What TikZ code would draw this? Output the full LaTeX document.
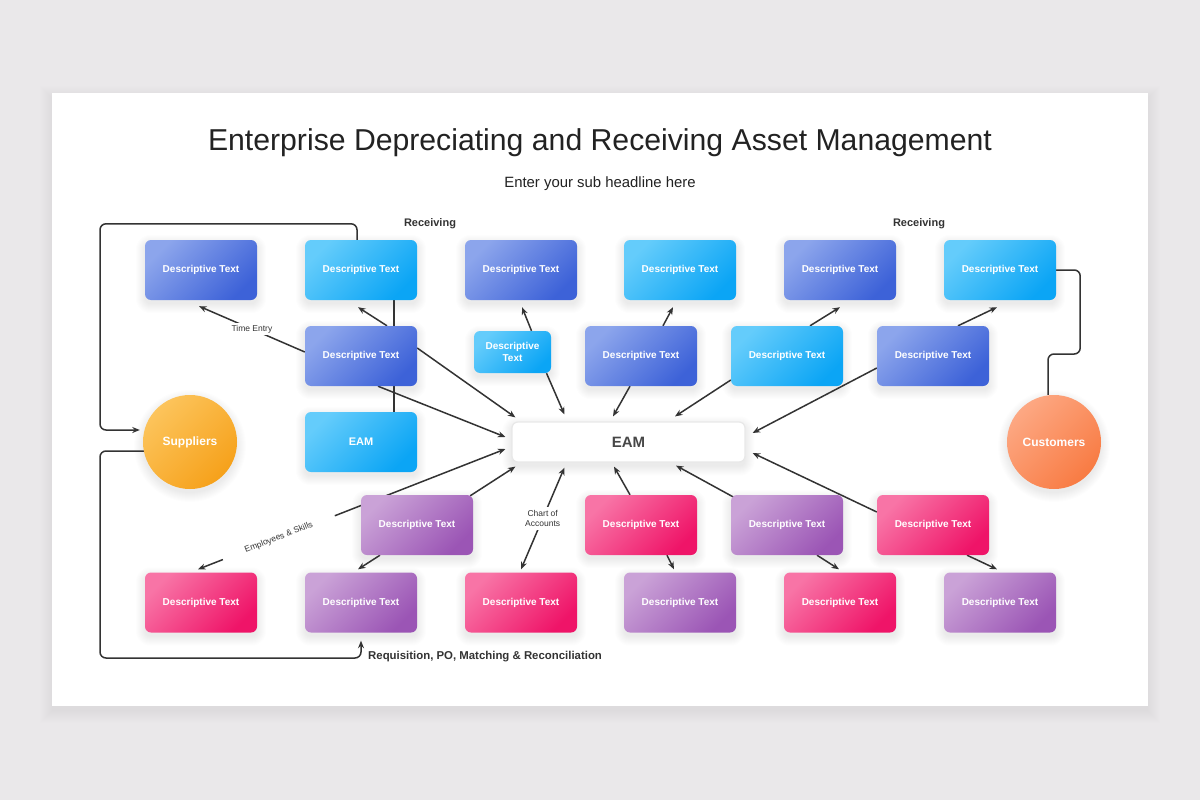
\documentclass[tikz,border=0pt]{standalone}
\usepackage{fontspec}
\setmainfont{Liberation Sans}
\usetikzlibrary{arrows.meta}
\definecolor{bg}{HTML}{EAE8EA}
\definecolor{lc}{HTML}{333333}
\definecolor{txt}{HTML}{222222}
\definecolor{bpL}{HTML}{8CA5EC}
\definecolor{bpD}{HTML}{3D62D8}
\definecolor{cyL}{HTML}{64CCFB}
\definecolor{cyD}{HTML}{0BA5F5}
\definecolor{puL}{HTML}{CAA2D7}
\definecolor{puD}{HTML}{9B55B5}
\definecolor{pkL}{HTML}{F874A6}
\definecolor{pkD}{HTML}{EF1468}
\definecolor{orL}{HTML}{FCC45C}
\definecolor{orD}{HTML}{F6A11A}
\definecolor{coL}{HTML}{FDA883}
\definecolor{coD}{HTML}{F87B43}
\pgfdeclarelayer{card}
\pgfdeclarelayer{shadow}
\pgfdeclarelayer{lines}
\pgfsetlayers{card,shadow,lines,main}
\newcommand{\rshadow}[1]{%
  \foreach \k in {0,...,9}{%
    \pgfmathsetmacro{\rr}{6+\k}%
    \fill[black, opacity=0.008, rounded corners=\rr pt] ([shift={(-\k,-\k+4)}]#1.north west) rectangle ([shift={(\k,\k+4)}]#1.south east);}}
\newcommand{\cshadow}[1]{%
  \foreach \k in {0,...,9}{%
    \pgfmathsetmacro{\rr}{47+\k}%
    \fill[black, opacity=0.008] ([yshift=-4pt]#1.center) circle[radius=\rr pt];}}
\begin{document}
\begin{tikzpicture}[x=1pt,y=-1pt,
  box/.style={rectangle, rounded corners=6pt, minimum width=112pt, minimum height=60pt, inner sep=0pt,
    text=white, font=\fontsize{10}{12}\selectfont\bfseries},
  bp/.style={box, top color=bpL, bottom color=bpD, shading angle=45},
  cy/.style={box, top color=cyL, bottom color=cyD, shading angle=45},
  pu/.style={box, top color=puL, bottom color=puD, shading angle=45},
  pk/.style={box, top color=pkL, bottom color=pkD, shading angle=45},
  circ/.style={circle, minimum size=94pt, inner sep=0pt, text=white, font=\fontsize{12}{14}\selectfont\bfseries},
  eambox/.style={rectangle, rounded corners=6pt, minimum width=233pt, minimum height=40pt, fill=white, draw=black!9, line width=1.2pt,
    text=black!72, font=\fontsize{15}{18}\selectfont\bfseries},
  link/.style={draw=lc, line width=1.5pt},
  conn/.style={link, -{Stealth[length=7.5pt,width=6pt]}},
  both/.style={link, {Stealth[length=7.5pt,width=6pt]}-{Stealth[length=7.5pt,width=6pt]}},
  lbl/.style={fill=white, inner sep=2pt, text=lc, font=\fontsize{8.5}{10}\selectfont},
  blbl/.style={text=lc, inner sep=0pt, font=\fontsize{11}{13}\selectfont\bfseries}
]
\useasboundingbox (0,0) rectangle (1200,800);
\begin{pgfonlayer}{card}
  \fill[bg] (0,0) rectangle (1200,800);
  \foreach \k in {0,...,12}{\fill[black, opacity=0.0035] (52-\k,93-\k+5) rectangle (1148+\k,706+\k+5);}
  \fill[white] (52,93) rectangle (1148,706);
\end{pgfonlayer}

\node[text=txt, font=\fontsize{30.2}{35}\selectfont] (title) at (600,143) {Enterprise Depreciating and Receiving Asset Management};
\node[text=txt, font=\fontsize{14.9}{17}\selectfont] (subt) at (600,184) {Enter your sub headline here};
\node[blbl] (rc1) at (430,224) {Receiving};
\node[blbl] (rc2) at (919,224) {Receiving};
\node[blbl, anchor=west, font=\fontsize{11.4}{13}\selectfont\bfseries] (req) at (368,657) {Requisition, PO, Matching \& Reconciliation};

% top row
\node[bp] (t1) at (201,270) {Descriptive Text};
\node[cy] (t2) at (361,270) {Descriptive Text};
\node[bp] (t3) at (521,270) {Descriptive Text};
\node[cy] (t4) at (680,270) {Descriptive Text};
\node[bp] (t5) at (840,270) {Descriptive Text};
\node[cy] (t6) at (1000,270) {Descriptive Text};
% middle row
\node[bp] (m1) at (361,356) {Descriptive Text};
\node[cy, minimum width=77pt, minimum height=42pt, align=center] (s) at (512.5,352) {Descriptive\\Text};
\node[bp] (m2) at (641,356) {Descriptive Text};
\node[cy] (m3) at (787,356) {Descriptive Text};
\node[bp] (m4) at (933,356) {Descriptive Text};
% centre
\node[cy, font=\fontsize{11}{13}\selectfont\bfseries] (eamL) at (361,442) {EAM};
\node[eambox] (eam) at (628.5,442) {EAM};
\node[circ, top color=orL, bottom color=orD, shading angle=45] (sup) at (190,442) {Suppliers};
\node[circ, top color=coL, bottom color=coD, shading angle=45] (cus) at (1054,442) {Customers};
% lower rows
\node[pu] (b1) at (417,525) {Descriptive Text};
\node[pk] (b2) at (641,525) {Descriptive Text};
\node[pu] (b3) at (787,525) {Descriptive Text};
\node[pk] (b4) at (933,525) {Descriptive Text};
\node[pk] (r1) at (201,602.5) {Descriptive Text};
\node[pu] (r2) at (361,602.5) {Descriptive Text};
\node[pk] (r3) at (521,602.5) {Descriptive Text};
\node[pu] (r4) at (680,602.5) {Descriptive Text};
\node[pk] (r5) at (840,602.5) {Descriptive Text};
\node[pu] (r6) at (1000,602.5) {Descriptive Text};

\begin{pgfonlayer}{shadow}
  \foreach \n in {t1,t2,t3,t4,t5,t6,m1,s,m2,m3,m4,eamL,eam,b1,b2,b3,b4,r1,r2,r3,r4,r5,r6}{\rshadow{\n}}
  \cshadow{sup}
  \cshadow{cus}
\end{pgfonlayer}

\begin{pgfonlayer}{lines}
  % outer loops
  \draw[conn, rounded corners=6pt] ([xshift=-4pt]t2.north) |- ++(-257,-16) |- ([shift={(-3,-12)}]sup.west);
  \draw[conn, rounded corners=6pt] ([yshift=-9pt]sup.center) -- ++(-90,0) -- ++(0,207) -| ([yshift=-8pt]r2.south);
  \draw[link, rounded corners=6pt] (t6.east) -- ++(24,0) -- ++(0,84) -| ([xshift=-6pt]cus.north);
  % left cluster
  \draw[link] ([xshift=33pt]t2.south) -- ([xshift=33pt]eamL.north);
  \draw[conn] ([xshift=26pt]m1.north) -- ([shift={(-3,7)}]t2.south);
  \draw[conn] ([yshift=4pt]m1.west) -- node[lbl] {Time Entry} ([shift={(-2,6)}]t1.south);
  \draw[conn] ([yshift=8pt]m1.east) -- ([shift={(4,-4)}]eam.north west);
  \draw[conn] ([xshift=17pt]m1.south) -- ([shift={(-6,-5)}]eam.west);
  \path ([shift={(-6,7)}]eam.west) -- coordinate[pos=0.555] (g1) node[pos=0.737, sloped, text=lc, inner sep=1pt, font=\fontsize{8.5}{10}\selectfont] (emp) {Employees \& Skills} coordinate[pos=0.919] (g2) ([shift={(-3,-3)}]r1.north);
  \draw[link, {Stealth[length=7.5pt,width=6pt]}-] ([shift={(-6,7)}]eam.west) -- (g1);
  \draw[conn] (g2) -- ([shift={(-3,-3)}]r1.north);
  \draw[conn] ([shift={(-3,1)}]b1.north east) -- ([shift={(4,4)}]eam.south west);
  \draw[conn] ([xshift=-37pt]b1.south) -- ([shift={(-3,-3)}]r2.north);
  \draw[both] ([shift={(53,5)}]eam.south west) -- node[lbl, align=center, inner ysep=3pt] {Chart of\\Accounts} ([shift={(0,-3)}]r3.north);
  % upper middle
  \draw[conn] ([xshift=19pt]s.north) -- ([shift={(1,7)}]t3.south);
  \draw[conn] ([xshift=34pt]s.south) -- ([shift={(53,-7)}]eam.north west);
  \draw[conn] ([xshift=22pt]m2.north) -- ([shift={(-7,7)}]t4.south);
  \draw[conn] ([xshift=-11pt]m2.south) -- ([shift={(-15.5,-5)}]eam.north);
  \draw[conn] ([yshift=-24pt]m3.west) -- ([shift={(46.5,-5)}]eam.north);
  \draw[conn] ([xshift=23pt]m3.north) -- ([yshift=-7pt]t5.south);
  \draw[conn] ([xshift=25pt]m4.north) -- ([shift={(-3,7)}]t6.south);
  \draw[conn] ([yshift=-12pt]m4.west) -- ([shift={(7,-9)}]eam.east);
  % lower right
  \draw[conn] ([yshift=13pt]b4.west) -- ([shift={(7,11)}]eam.east);
  \draw[conn] ([shift={(4,3)}]b3.north west) -- ([shift={(47.5,3)}]eam.south);
  \draw[conn] ([xshift=-11pt]b2.north) -- ([shift={(-14.5,4)}]eam.south);
  \draw[conn] ([xshift=26pt]b2.south) -- ([shift={(-6,-3)}]r4.north);
  \draw[conn] ([xshift=30pt]b3.south) -- ([shift={(-1,-3)}]r5.north);
  \draw[conn] ([xshift=34pt]b4.south) -- ([shift={(-3,-3)}]r6.north);
\end{pgfonlayer}
\end{tikzpicture}
\end{document}
